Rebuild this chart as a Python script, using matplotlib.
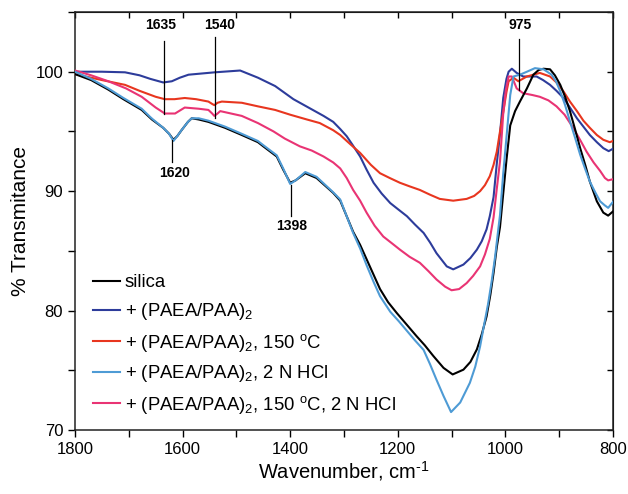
import matplotlib
matplotlib.use("Agg")
import matplotlib.pyplot as plt
from matplotlib.ticker import MultipleLocator

plt.rcParams['font.family'] = ['Liberation Sans', 'DejaVu Sans']
plt.rcParams['mathtext.fontset'] = 'custom'
plt.rcParams['mathtext.rm'] = 'Liberation Sans'
plt.rcParams['mathtext.it'] = 'Liberation Sans:italic'
plt.rcParams['mathtext.bf'] = 'Liberation Sans:bold'

# ---- data ----
silica_w = [1800, 1770, 1738, 1710, 1676, 1657, 1636, 1625, 1617, 1610, 1602, 1590, 1583, 1570,
            1552, 1521, 1490, 1460, 1450, 1425, 1413, 1400, 1390, 1372, 1351, 1320, 1307, 1283,
            1270, 1258, 1245, 1233, 1218, 1202, 1183, 1165, 1150, 1134, 1115, 1098, 1078, 1065,
            1053, 1044, 1035, 1028, 1022, 1016, 1010, 1004, 998, 991, 982, 973, 960, 948, 938,
            929, 917, 908, 898, 889, 880, 870, 861, 851, 843, 830, 818, 809, 800]
silica_t = [99.8, 99.3, 98.5, 97.7, 96.8, 96.0, 95.3, 94.8, 94.3, 94.6, 95.1, 95.8, 96.1, 96.0,
            95.8, 95.3, 94.7, 94.1, 93.75, 92.9, 91.8, 90.7, 90.9, 91.5, 91.1, 89.85, 89.2, 86.6,
            85.5, 84.3, 83.0, 81.8, 80.7, 79.8, 78.8, 77.85, 77.1, 76.2, 75.2, 74.65, 75.05, 75.7,
            76.75, 78.0, 79.5, 81.3, 83.15, 85.3, 87.0, 89.8, 92.6, 95.5, 96.7, 97.5, 98.6, 99.75, 100.15,
            100.25, 100.2, 99.7, 98.9, 97.9, 96.7, 95.1, 93.6, 92.1, 90.8, 89.15, 88.2, 87.95, 88.3]

paea_w = [1800, 1750, 1707, 1680, 1660, 1636, 1620, 1605, 1589, 1540, 1493, 1460, 1428, 1394,
          1374, 1338, 1320, 1307, 1295, 1283, 1270, 1258, 1245, 1230, 1214, 1200, 1183, 1168,
          1152, 1140, 1128, 1109, 1097, 1078, 1065, 1053, 1044, 1035, 1029, 1022, 1016, 1010,
          1004, 998, 994, 988, 979, 967, 942, 930, 917, 905, 892, 880, 867, 855, 843, 830, 818,
          808, 800]
paea_t = [100.0, 100.0, 99.95, 99.7, 99.4, 99.1, 99.2, 99.5, 99.75, 99.95, 100.1, 99.5, 98.8, 97.7,
          97.2, 96.3, 95.8, 95.2, 94.6, 93.8, 92.9, 91.8, 90.7, 89.8, 89.0, 88.5, 87.9, 87.2,
          86.5, 85.7, 84.8, 83.7, 83.45, 83.85, 84.4, 85.1, 85.8, 86.8, 87.9, 89.5, 92.3, 94.8,
          97.8, 99.4, 100.0, 100.25, 99.9, 99.6, 99.6, 99.3, 98.9, 98.4, 97.8, 97.0, 96.1, 95.4,
          94.7, 94.1, 93.6, 93.35, 93.55]

heat_w = [1800, 1750, 1707, 1680, 1650, 1633, 1615, 1596, 1575, 1552, 1545, 1541, 1535, 1527,
          1490, 1460, 1428, 1400, 1369, 1345, 1320, 1307, 1290, 1270, 1250, 1233, 1215, 1196,
          1178, 1159, 1140, 1122, 1097, 1072, 1058, 1047, 1038, 1029, 1022, 1016, 1010, 1004,
          998, 994, 985, 976, 960, 936, 917, 905, 892, 880, 867, 855, 843, 830, 818, 806, 800]
heat_t = [99.8, 99.3, 98.9, 98.4, 97.9, 97.7, 97.7, 97.8, 97.7, 97.5, 97.3, 97.2, 97.4, 97.5,
          97.4, 97.1, 96.8, 96.4, 96.0, 95.7, 95.1, 94.7, 94.0, 93.2, 92.2, 91.5, 91.1, 90.7,
          90.4, 90.1, 89.7, 89.35, 89.2, 89.35, 89.6, 90.0, 90.5, 91.25, 92.2, 93.3, 95.0, 96.6,
          98.3, 99.2, 99.5, 99.2, 99.6, 99.9, 99.6, 99.1, 98.35, 97.5, 96.7, 95.9, 95.3, 94.7,
          94.3, 94.1, 94.2]

hcl_w = [1800, 1770, 1738, 1710, 1676, 1660, 1655, 1636, 1625, 1617, 1610, 1602, 1590, 1583,
         1570, 1552, 1521, 1490, 1460, 1450, 1425, 1413, 1400, 1390, 1372, 1351, 1320, 1307,
         1283, 1270, 1258, 1245, 1233, 1214, 1198, 1183, 1168, 1152, 1140, 1128, 1115, 1101,
         1084, 1066, 1056, 1047, 1040, 1032, 1025, 1019, 1014, 1010, 1004, 998, 991, 985, 973,
         960, 945, 929, 914, 906, 898, 889, 880, 870, 861, 852, 843, 833, 824, 815, 809, 800]
hcl_t = [100.0, 99.4, 98.6, 97.8, 96.9, 96.2, 96.0, 95.3, 94.8, 94.2, 94.6, 95.1, 95.8, 96.1,
         96.1, 95.9, 95.4, 94.8, 94.2, 93.85, 93.0, 91.9, 90.6, 90.9, 91.6, 91.2, 89.9, 89.3,
         86.5, 85.2, 83.8, 82.4, 81.2, 79.9, 79.1, 78.3, 77.5, 76.7, 75.5, 74.2, 72.85, 71.5,
         72.3, 73.95, 75.3, 77.0, 78.7, 80.6, 82.6, 84.55, 86.5, 88.0, 91.5, 94.5, 98.05, 99.6, 99.75,
         100.0, 100.3, 100.2, 99.75, 99.2, 98.35, 97.2, 95.85, 94.4, 93.05, 91.9, 90.8, 89.9,
         89.15, 88.8, 88.6, 89.1]

heathcl_w = [1800, 1770, 1738, 1705, 1676, 1650, 1633, 1614, 1596, 1570, 1552, 1545, 1541, 1535,
             1530, 1490, 1460, 1431, 1410, 1382, 1360, 1338, 1320, 1307, 1295, 1283, 1270, 1258,
             1243, 1227, 1210, 1196, 1178, 1159, 1143, 1128, 1112, 1100, 1086, 1072, 1060, 1047,
             1038, 1029, 1022, 1016, 1010, 1004, 999, 994, 988, 979, 967, 950, 936, 920, 905, 890,
             874, 860, 849, 836, 824, 815, 809, 800]
heathcl_t = [100.1, 99.7, 99.2, 98.6, 97.9, 97.0, 96.5, 96.5, 97.0, 96.9, 96.8, 96.5, 96.3, 96.5,
             96.7, 96.3, 95.7, 95.0, 94.4, 93.75, 93.4, 92.9, 92.4, 91.9, 91.1, 90.1, 89.2, 88.2,
             87.1, 86.2, 85.6, 85.1, 84.5, 84.0, 83.3, 82.6, 82.0, 81.7, 81.8, 82.3, 82.9, 83.7,
             84.7, 86.0, 87.8, 90.2, 92.5, 96.5, 98.5, 99.6, 99.6, 98.6, 98.2, 98.05, 97.9, 97.6,
             97.1, 96.4, 95.3, 94.2, 93.3, 92.4, 91.7, 91.1, 90.9, 91.0]

labels = ['silica',
          '+ (PAEA/PAA)$_2$',
          '+ (PAEA/PAA)$_2$, 150 $^{\\rm o}$C',
          '+ (PAEA/PAA)$_2$, 2 N HCl',
          '+ (PAEA/PAA)$_2$, 150 $^{\\rm o}$C, 2 N HCl']
colors = ['#000000', '#2d3c9b', '#e8361f', '#4e9bd5', '#e93474']

# peak annotations
ann_w = [1635, 1540, 975, 1620, 1398]
ann_top = [102.6, 102.9, 102.75, 94.3, 90.5]
ann_bot = [96.5, 96.1, 98.5, 92.4, 87.9]
ann_text_y = [103.9, 103.9, 103.9, 91.5, 87.1]
ann_text_x = [1640, 1532, 973, 1615, 1398]

fig = plt.figure(figsize=(6.28, 4.94), dpi=100)
ax = fig.add_axes([0.1194, 0.1296, 0.8567, 0.8461])

series = [(silica_w, silica_t), (paea_w, paea_t), (heat_w, heat_t),
          (hcl_w, hcl_t), (heathcl_w, heathcl_t)]
order = [1, 2, 4, 0, 3]
lines = {}
for i in order:
    w, t = series[i]
    ln, = ax.plot(w, t, color=colors[i], lw=1.5, label=labels[i],
                  solid_joinstyle='round', zorder=3 if i != 3 else 4)
    lines[i] = ln

for w, top, bot, ty, tx in zip(ann_w, ann_top, ann_bot, ann_text_y, ann_text_x):
    ax.plot([w, w], [bot, top], color='black', lw=0.9, zorder=5)
    ax.text(tx, ty, str(w), ha='center', va='center', fontsize=10, fontweight='bold')

ax.set_xlim(1800, 800)
ax.set_ylim(70, 105)
ax.xaxis.set_major_locator(MultipleLocator(200))
ax.xaxis.set_minor_locator(MultipleLocator(100))
ax.set_yticks([70, 80, 90, 100])
ax.yaxis.set_minor_locator(MultipleLocator(5))
ax.tick_params(axis='both', which='both', direction='out', length=5, width=1,
               labelsize=12, top=False, right=False)

secx = ax.secondary_xaxis('top')
secx.xaxis.set_major_locator(MultipleLocator(100))
secx.tick_params(direction='in', length=4, width=1, labeltop=False)
secy = ax.secondary_yaxis('right')
secy.yaxis.set_major_locator(MultipleLocator(5))
secy.tick_params(direction='in', length=4, width=1, labelright=False)

for sp in ax.spines.values():
    sp.set_linewidth(1.1)
    sp.set_color('#222222')

ax.set_xlabel('Wavenumber, cm$^{\\text{-1}}$', fontsize=14.5, labelpad=2)
ax.set_ylabel('% Transmitance', fontsize=15, labelpad=4)

handles = [lines[i] for i in range(5)]
ax.legend(handles, labels, loc='upper left', bbox_to_anchor=(0.034, 0.372),
          frameon=False, fontsize=13.3, handlelength=1.45, handletextpad=0.25,
          labelspacing=0.52, borderpad=0, borderaxespad=0)

fig.savefig('out.png', dpi=100)
